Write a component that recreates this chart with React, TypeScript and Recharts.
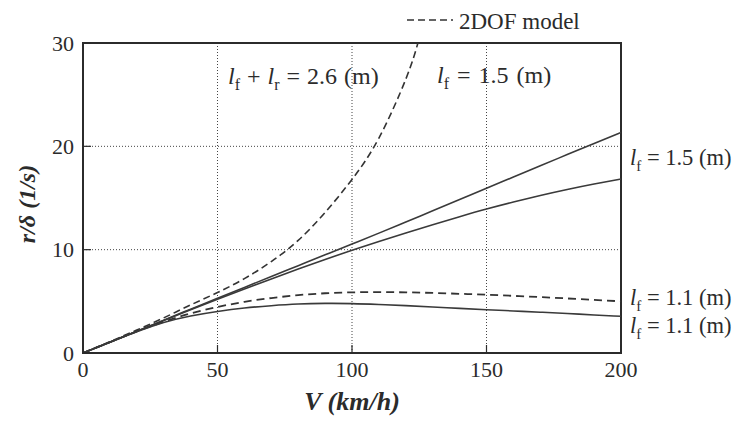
import { LineChart, Line, XAxis, YAxis, CartesianGrid, ReferenceArea } from 'recharts';

// V (km/h) sample points for the simulated curves
const speeds = [0, 10, 20, 30, 40, 50, 60, 70, 80, 90, 100, 110, 120, 130, 140, 150, 160, 170, 180, 190, 200];

// lf = 1.5 m, solid (upper / lower)
const lf15Upper = [0, 1.05, 2.1, 3.18, 4.24, 5.3, 6.35, 7.4, 8.45, 9.5, 10.55, 11.6, 12.68, 13.76, 14.85, 15.95, 17.03, 18.12, 19.2, 20.28, 21.35];
const lf15Lower = [0, 1.05, 2.1, 3.15, 4.18, 5.2, 6.2, 7.17, 8.12, 9.05, 9.95, 10.8, 11.62, 12.42, 13.19, 13.93, 14.61, 15.24, 15.82, 16.35, 16.83];

// lf = 1.1 m, 2DOF (dashed) and solid
const lf11Dof = [0, 1.05, 2.08, 3.02, 3.82, 4.45, 4.95, 5.32, 5.6, 5.78, 5.87, 5.9, 5.87, 5.81, 5.73, 5.64, 5.53, 5.41, 5.28, 5.14, 5.0];
const lf11Solid = [0, 1.05, 2.05, 2.95, 3.58, 4.02, 4.35, 4.58, 4.74, 4.8, 4.78, 4.69, 4.58, 4.45, 4.32, 4.19, 4.07, 3.95, 3.82, 3.68, 3.55];

// lf + lr = 2.6 m, 2DOF (dashed), leaves the plot at ~125 km/h
const neutralSpeeds = [0, 10, 20, 30, 40, 50, 60, 70, 80, 90, 100, 110, 120, 124.5];
const neutralDof = [0, 1.1, 2.22, 3.4, 4.65, 5.85, 7.2, 8.85, 10.9, 13.6, 16.8, 20.8, 26.5, 30];

const xTicks = [0, 50, 100, 150, 200];
const yTicks = [0, 10, 20, 30];

const toRows = (xs: number[], ys: number[]) => xs.map((v, i) => ({ v, r: ys[i] }));

const FONT = "'Liberation Serif', 'Times New Roman', Times, serif";
const INK = '#2b2b2b';

function Lf({ x, y, sub, rest, size = 24, spacing = 0 }: { x: number; y: number; sub: string; rest: string; size?: number; spacing?: number }) {
  return (
    <text x={x} y={y} fontFamily={FONT} fontSize={size} fill={INK} wordSpacing={spacing}>
      <tspan fontStyle="italic">l</tspan>
      <tspan fontSize={size * 0.67} dy={6}>{sub}</tspan>
      <tspan dy={-6}>{rest}</tspan>
    </text>
  );
}

export default function App() {
  return (
    <LineChart width={726} height={415} margin={{ top: 35, right: 113, bottom: 8, left: 0 }}>
      <CartesianGrid stroke="#444" strokeDasharray="1 2" />
      <XAxis
        type="number"
        dataKey="v"
        domain={[0, 200]}
        ticks={xTicks}
        height={62}
        tickSize={-8}
        tickMargin={16}
        tickLine={{ stroke: INK, strokeWidth: 1.2 }}
        axisLine={{ stroke: INK, strokeWidth: 2 }}
        tick={{ fill: INK, fontSize: 22, fontFamily: FONT }}
      />
      <YAxis
        type="number"
        domain={[0, 30]}
        ticks={yTicks}
        allowDataOverflow
        width={75}
        tickSize={-8}
        tickMargin={17}
        tickLine={{ stroke: INK, strokeWidth: 1.2 }}
        axisLine={{ stroke: INK, strokeWidth: 2 }}
        tick={{ fill: INK, fontSize: 22, fontFamily: FONT }}
      />
      <ReferenceArea x1={0} x2={200} y1={0} y2={30} fill="none" stroke={INK} strokeWidth={2} />
      <Line data={toRows(neutralSpeeds, neutralDof)} dataKey="r" type="natural" stroke="#333" strokeWidth={1.6} strokeDasharray="7 4" dot={false} isAnimationActive={false} />
      <Line data={toRows(speeds, lf15Upper)} dataKey="r" type="natural" stroke="#3a3a3a" strokeWidth={1.6} dot={false} isAnimationActive={false} />
      <Line data={toRows(speeds, lf15Lower)} dataKey="r" type="natural" stroke="#3a3a3a" strokeWidth={1.6} dot={false} isAnimationActive={false} />
      <Line data={toRows(speeds, lf11Dof)} dataKey="r" type="natural" stroke="#333" strokeWidth={1.8} strokeDasharray="8 5" dot={false} isAnimationActive={false} />
      <Line data={toRows(speeds, lf11Solid)} dataKey="r" type="natural" stroke="#3a3a3a" strokeWidth={1.6} dot={false} isAnimationActive={false} />

      {/* legend */}
      <line x1={399} y1={12} x2={445} y2={12} stroke="#333" strokeWidth={1.6} strokeDasharray="7 4" />
      <text x={451} y={21} fontFamily={FONT} fontSize={23} fill={INK}>2DOF model</text>

      {/* annotations */}
      <text x={220} y={76} fontFamily={FONT} fontSize={24} fill={INK} wordSpacing={1}>
        <tspan fontStyle="italic">l</tspan>
        <tspan fontSize={16} dy={6}>f</tspan>
        <tspan dy={-6}> + </tspan>
        <tspan fontStyle="italic">l</tspan>
        <tspan fontSize={16} dy={6}>r</tspan>
        <tspan dy={-6}> = 2.6 (m)</tspan>
      </text>
      <Lf x={429} y={75} sub="f" rest=" = 1.5 (m)" spacing={2} />
      <Lf x={622} y={157} sub="f" rest=" = 1.5 (m)" size={22.5} />
      <Lf x={622} y={297} sub="f" rest=" = 1.1 (m)" size={22.5} />
      <Lf x={622} y={325} sub="f" rest=" = 1.1 (m)" size={22.5} />

      {/* axis titles */}
      <text x={344} y={402} textAnchor="middle" fontFamily={FONT} fontSize={26} fontWeight="bold" fontStyle="italic" fill={INK}>
        V (km/h)
      </text>
      <text x={0} y={0} transform="translate(27 196) rotate(-90)" textAnchor="middle" fontFamily={FONT} fontSize={24} fontWeight="bold" fontStyle="italic" fill={INK}>
        r/δ (1/s)
      </text>
    </LineChart>
  );
}
